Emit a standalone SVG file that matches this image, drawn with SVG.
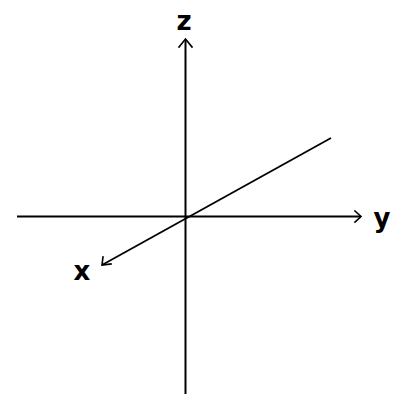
<svg xmlns="http://www.w3.org/2000/svg" width="409" height="403" viewBox="0 0 409 403">
<style>
.ax{stroke:#000;stroke-width:2;fill:none}
.hd{stroke:#000;stroke-width:1.6;fill:none;stroke-linecap:square}
.lb{font-family:"DejaVu Sans",sans-serif;font-size:26px;font-weight:bold;fill:#000}
</style>
<rect width="409" height="403" fill="#fff"/>
<g id="connectors">
<line class="ax" x1="185.5" y1="40" x2="185.5" y2="394"/>
<polyline class="hd" points="179,47 185.5,39 192,47"/>
<line class="ax" x1="17" y1="216.5" x2="361" y2="216.5"/>
<polyline class="hd" points="355,211 361,216.5 355,222"/>
<line class="ax" x1="331" y1="138" x2="102" y2="265" style="stroke-width:1.8"/>
<polyline class="hd" points="103,257 102,265 111,264"/>
</g>
<g id="label-z"><text class="lb" x="184" y="30" text-anchor="middle">z</text></g>
<g id="label-y"><text class="lb" x="382" y="227" text-anchor="middle">y</text></g>
<g id="label-x"><text class="lb" x="82" y="280" text-anchor="middle">x</text></g>
</svg>
